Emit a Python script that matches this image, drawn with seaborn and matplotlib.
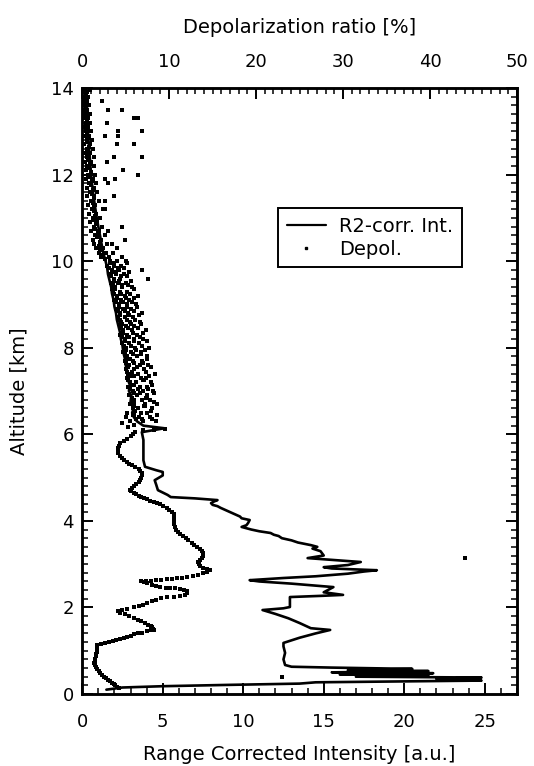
import matplotlib
matplotlib.use("Agg")
import matplotlib.pyplot as plt
import seaborn as sns
import pandas as pd
from matplotlib.lines import Line2D
from matplotlib.ticker import MultipleLocator

# ---------------- data ----------------
# Range-corrected intensity (bottom axis, a.u.) vs altitude (km)
int_alt = [0.10, 0.15, 0.18, 0.21, 0.24, 0.27, 0.29, 0.31, 0.35, 0.38, 0.40, 0.43, 0.45,
           0.48, 0.50, 0.53, 0.55, 0.58, 0.61, 0.63, 0.67, 0.80, 0.95, 1.10, 1.18, 1.30,
           1.40, 1.48, 1.52, 1.64, 1.75, 1.85, 1.94, 1.98, 2.01, 2.12, 2.24, 2.27, 2.29,
           2.35, 2.47, 2.55, 2.60, 2.63, 2.68, 2.72, 2.78, 2.83, 2.86, 2.90, 2.93, 2.98,
           3.05, 3.10, 3.14, 3.20, 3.30, 3.36, 3.40, 3.44, 3.50, 3.55, 3.60, 3.65, 3.68,
           3.72, 3.76, 3.80, 3.86, 3.90, 3.95, 4.02, 4.06, 4.10, 4.15, 4.20, 4.25, 4.30,
           4.34, 4.37, 4.41, 4.45, 4.48, 4.52, 4.55, 4.60, 4.71, 4.83, 4.94, 5.05,
           5.13, 5.17, 5.25, 5.40, 5.60, 5.87, 6.05, 6.14, 6.20, 6.30, 6.40, 6.50, 6.60,
           6.75, 6.90, 7.00, 7.15, 7.30, 7.45, 7.60, 7.75, 7.90, 8.05, 8.20, 8.35, 8.50,
           8.65, 8.80, 8.95, 9.10, 9.25, 9.40, 9.55, 9.70, 9.85, 10.00, 10.20, 10.40,
           10.60, 10.80, 11.00, 11.25, 11.50, 11.75, 12.00, 12.25, 12.50, 12.75, 13.00,
           13.25, 13.50, 13.75, 14.00]
int_val = [1.5, 2.5, 5.0, 9.0, 13.5, 14.5, 20.0, 24.8, 22.0, 24.8, 17.0, 21.5, 16.0,
           21.8, 15.5, 21.5, 16.5, 20.5, 15.5, 13.0, 12.6, 12.5, 12.6, 12.5, 12.5, 13.5,
           14.5, 15.4, 14.2, 13.5, 12.8, 12.0, 11.2, 12.5, 12.9, 12.9, 12.9, 15.0, 16.2,
           15.0, 15.6, 13.0, 11.0, 10.4, 12.5, 14.5, 16.5, 17.5, 18.3, 15.5, 15.0, 16.5,
           17.3, 15.5, 14.0, 15.0, 14.8, 14.3, 14.6, 14.2, 13.4, 13.0, 12.4, 12.2, 11.9,
           11.7, 11.0, 10.5, 9.9, 10.2, 10.3, 10.4, 9.9, 9.8, 9.5, 9.2, 8.9, 8.6,
           8.4, 8.1, 8.0, 8.2, 8.4, 7.0, 5.5, 5.3, 4.7, 4.6, 4.5, 5.0,
           5.0, 4.6, 3.9, 3.8, 3.8, 3.8, 3.7, 5.1, 3.8, 3.4, 3.2, 3.1, 3.2,
           3.0, 3.05, 2.9, 2.95, 2.8, 2.8, 2.7, 2.65, 2.55, 2.5, 2.4, 2.35, 2.25,
           2.15, 2.1, 2.0, 1.95, 1.85, 1.8, 1.7, 1.6, 1.55, 1.45, 1.3, 1.2,
           1.1, 1.0, 0.9, 0.8, 0.7, 0.62, 0.55, 0.5, 0.45, 0.4, 0.35,
           0.32, 0.3, 0.27, 0.25]

# Depolarization ratio (top axis, %) vs altitude (km): lower profile
dep_alt_low = [0.14, 0.17, 0.20, 0.23, 0.26, 0.29, 0.32, 0.36, 0.40, 0.44, 0.48, 0.52,
               0.57, 0.62, 0.67, 0.72, 0.77, 0.82, 0.87, 0.92, 0.97, 1.02, 1.07, 1.13,
               1.15, 1.17, 1.19, 1.22, 1.25, 1.27, 1.30, 1.32, 1.35, 1.38, 1.40, 1.42,
               1.45, 1.47, 1.48, 1.50, 1.54, 1.57, 1.60, 1.64, 1.68, 1.72, 1.76, 1.80,
               1.84, 1.88, 1.91, 1.94, 1.97, 2.00, 2.03, 2.06, 2.10, 2.14, 2.18, 2.21,
               2.23, 2.25, 2.27, 2.29, 2.33, 2.37, 2.40, 2.42, 2.44, 2.45, 2.46, 2.48,
               2.50, 2.53, 2.56, 2.58, 2.60, 2.61, 2.62, 2.63, 2.64, 2.65, 2.66, 2.67,
               2.68, 2.70, 2.72, 2.75, 2.79, 2.82, 2.86, 2.89, 2.92, 2.96, 3.00, 3.05,
               3.10, 3.15, 3.20, 3.25, 3.30, 3.35, 3.40, 3.45, 3.50, 3.55, 3.60, 3.65,
               3.70, 3.75, 3.80, 3.86, 3.92, 3.98, 4.04, 4.10, 4.16, 4.21, 4.26, 4.30,
               4.34, 4.38, 4.41, 4.44, 4.47, 4.50, 4.52, 4.55, 4.58, 4.61, 4.64, 4.68,
               4.71, 4.75, 4.80, 4.85, 4.90, 4.95, 5.00, 5.05, 5.10, 5.15, 5.20, 5.24,
               5.28, 5.32, 5.36, 5.40, 5.45, 5.50, 5.56, 5.62, 5.68, 5.74, 5.80, 5.85,
               5.90, 5.95, 6.00, 6.05, 6.09, 6.11, 6.13, 6.17, 6.22, 6.26, 0.39, 3.14]
dep_val_low = [4.2, 4.0, 3.8, 3.6, 3.4, 3.2, 3.0, 2.7, 2.5, 2.3, 2.1, 1.9,
               1.7, 1.6, 1.5, 1.4, 1.45, 1.5, 1.55, 1.6, 1.65, 1.7, 1.7, 1.7,
               2.2, 2.6, 3.1, 3.5, 3.9, 4.4, 4.8, 5.2, 5.6, 6.0, 6.4, 6.9,
               7.4, 7.9, 8.3, 8.1, 8.0, 7.9, 7.6, 7.2, 6.8, 6.4, 5.9, 5.4,
               4.9, 4.4, 4.1, 4.6, 5.2, 6.0, 6.5, 7.0, 7.5, 8.0, 8.5, 9.1,
               9.8, 10.5, 11.2, 11.8, 12.1, 12.0, 11.7, 11.3, 10.7, 10.1, 9.6, 9.0,
               8.5, 8.0, 7.5, 7.1, 6.8, 7.3, 7.9, 8.5, 9.1, 9.7, 10.3, 10.9,
               11.5, 12.1, 12.7, 13.3, 13.9, 14.4, 14.7, 14.3, 13.9, 13.6, 13.4, 13.3,
               13.5, 13.8, 13.9, 13.9, 13.8, 13.5, 13.2, 12.9, 12.6, 12.2, 11.9, 11.6,
               11.3, 11.0, 10.8, 10.7, 10.6, 10.6, 10.6, 10.5, 10.5, 10.3, 10.0, 9.7,
               9.3, 8.9, 8.6, 8.2, 7.8, 7.5, 7.1, 6.8, 6.5, 6.2, 5.9, 5.6,
               5.5, 5.7, 5.9, 6.2, 6.5, 6.7, 6.8, 6.9, 6.9, 6.7, 6.5, 6.1,
               5.7, 5.4, 5.1, 4.8, 4.6, 4.3, 4.1, 4.1, 4.1, 4.2, 4.4, 4.8,
               5.2, 5.6, 5.8, 6.1, 7.0, 8.2, 9.5, 5.3, 6.0, 4.6, 23.0, 44.0]

# depolarization scatter band, 6.3 - 10 km
dep_alt_band = [6.3, 6.3, 6.3, 6.4, 6.4, 6.4, 6.5, 6.5, 6.5, 6.6, 6.6, 6.6, 6.7, 6.7, 6.7,
                6.8, 6.8, 6.8, 6.9, 6.9, 6.9, 7.0, 7.0, 7.0, 7.1, 7.1, 7.1, 7.2, 7.2, 7.2,
                7.3, 7.3, 7.3, 7.4, 7.4, 7.4, 7.5, 7.5, 7.5, 7.6, 7.6, 7.6, 7.7, 7.7, 7.7,
                7.8, 7.8, 7.8, 7.9, 7.9, 7.9, 8.0, 8.0, 8.0, 8.1, 8.1, 8.1, 8.2, 8.2, 8.2,
                8.3, 8.3, 8.3, 8.4, 8.4, 8.4, 8.5, 8.5, 8.5, 8.6, 8.6, 8.6, 8.7, 8.7, 8.7,
                8.8, 8.8, 8.8, 8.9, 8.9, 8.9, 9.0, 9.0, 9.0, 9.1, 9.1, 9.1, 9.2, 9.2, 9.2,
                9.3, 9.3, 9.3, 9.4, 9.4, 9.4, 9.5, 9.5, 9.5, 9.6, 9.6, 9.6, 9.7, 9.7, 9.7,
                9.8, 9.8, 9.8, 9.9, 9.9, 9.9, 10.0, 10.0, 10.0]
dep_val_band = [5.5, 7.0, 8.5, 5.0, 6.5, 7.8, 5.2, 6.8, 7.5, 5.8, 6.4, 8.0, 5.5, 7.2, 8.6,
                5.9, 6.9, 7.8, 5.4, 6.3, 7.4, 5.8, 7.0, 8.1, 5.3, 6.6, 7.5, 5.5, 6.2, 7.9,
                5.1, 6.8, 7.3, 5.6, 6.4, 8.4, 5.0, 6.0, 7.1, 5.4, 6.6, 7.6, 4.9, 5.8, 6.9,
                5.2, 6.3, 7.4, 4.7, 5.6, 6.8, 5.0, 6.1, 7.7, 4.6, 5.4, 6.5, 4.9, 5.9, 7.0,
                4.4, 5.2, 6.3, 4.7, 5.7, 7.3, 4.3, 5.0, 6.0, 4.5, 5.5, 6.6, 4.1, 4.9, 5.8,
                4.4, 5.3, 6.9, 3.9, 4.7, 5.6, 4.2, 5.1, 6.2, 3.7, 4.5, 5.4, 4.0, 4.9, 6.4,
                3.5, 4.3, 5.2, 3.8, 4.6, 5.7, 3.3, 4.1, 5.0, 3.6, 4.4, 7.6, 3.1, 3.9, 4.8,
                3.4, 4.2, 6.9, 2.9, 3.7, 4.5, 3.2, 4.0, 5.0]
dep_alt_mid = [6.35, 6.45, 6.55, 6.65, 6.75, 6.85, 6.95, 7.05, 7.15, 7.25, 7.35, 7.45,
               7.55, 7.65, 7.75, 7.85, 7.95, 8.05, 8.15, 8.25, 8.35, 8.45, 8.55, 8.65,
               8.75, 8.85, 8.95, 9.05, 9.15, 9.25, 9.35, 9.45, 9.55, 9.65, 9.75, 9.85, 9.95]
dep_val_mid_a = [6.2, 5.8, 6.1, 7.1, 6.0, 7.3, 6.6, 6.4, 5.9, 7.0, 6.0, 5.7,
                 6.3, 5.9, 5.5, 5.8, 6.2, 5.6, 5.9, 5.4, 5.8, 5.3, 5.6, 5.1,
                 5.4, 4.9, 5.2, 4.7, 5.0, 4.5, 3.4, 4.6, 4.2, 4.5, 3.9, 4.1, 3.6]
dep_val_mid_b = [6.9, 6.0, 5.9, 6.0, 5.8, 5.7, 5.9, 5.5, 5.6, 5.3, 5.5, 5.2,
                 5.3, 5.0, 5.2, 4.9, 5.0, 4.8, 4.9, 4.6, 4.7, 4.5, 4.6, 4.3,
                 4.4, 4.1, 4.2, 3.9, 4.0, 3.7, 3.8, 3.5, 3.6, 3.3, 3.4, 3.1, 3.2]
dep_val_mid_c = [8.0, 8.6, 7.9, 7.2, 8.2, 7.5, 8.3, 7.6, 8.0, 7.1, 7.7, 7.3,
                 7.9, 7.0, 7.5, 6.8, 7.2, 6.9, 7.4, 6.6, 7.0, 6.4, 6.8, 6.1,
                 6.5, 5.9, 6.3, 5.7, 6.0, 5.5, 5.9, 5.3, 5.6, 5.1, 5.4, 4.8, 5.1]

# depolarization above 10 km
dep_alt_high = [10.1, 10.1, 10.1, 10.2, 10.2, 10.2, 10.3, 10.3, 10.3, 10.4, 10.4, 10.4,
                10.5, 10.5, 10.5, 10.6, 10.6, 10.7, 10.7, 10.7, 10.8, 10.8, 10.8, 10.9, 10.9,
                11.0, 11.0, 11.1, 11.1, 11.2, 11.2, 11.2, 11.3, 11.3, 11.4, 11.4, 11.4,
                11.5, 11.5, 11.5, 11.6, 11.6, 11.7, 11.7, 11.8, 11.8, 11.8, 11.9, 11.9, 11.9,
                11.9, 12.0, 12.0, 12.0, 12.1, 12.1, 12.2, 12.2, 12.3, 12.3, 12.3, 12.4, 12.4,
                12.4, 12.4, 12.5, 12.5, 12.6, 12.6, 12.7, 12.7, 12.7, 12.7, 12.8, 12.8, 12.9,
                12.9, 12.9, 12.9, 13.0, 13.0, 13.0, 13.0, 13.1, 13.1, 13.2, 13.2, 13.2, 13.3,
                13.3, 13.3, 13.3, 13.4, 13.4, 13.5, 13.5, 13.5, 13.5, 13.6, 13.6, 13.7, 13.7,
                13.7, 13.8, 13.8, 13.9, 13.9, 13.95, 13.95]
dep_val_high = [2.2, 3.1, 4.6, 1.9, 2.7, 3.5, 1.6, 2.4, 4.0, 1.4, 2.9, 3.4,
                1.2, 2.2, 4.9, 1.5, 2.6, 1.0, 1.9, 3.0, 1.3, 2.3, 4.6, 0.9, 1.7,
                1.2, 2.1, 0.8, 1.6, 1.1, 2.4, 2.6, 0.7, 1.5, 1.0, 1.9, 2.6,
                0.6, 1.4, 3.6, 0.9, 1.7, 0.5, 1.3, 0.8, 1.6, 3.0, 0.4, 1.2, 2.6,
                3.8, 0.7, 1.5, 6.4, 0.4, 4.7, 0.6, 1.4, 0.3, 1.0, 2.8, 0.6, 1.3,
                3.6, 6.9, 0.3, 0.9, 0.5, 1.2, 0.2, 0.9, 4.0, 5.9, 0.5, 1.1, 0.2,
                0.8, 2.6, 4.1, 0.4, 1.0, 4.1, 6.9, 0.2, 0.7, 0.4, 0.9, 2.9, 0.2,
                0.7, 5.9, 6.4, 0.3, 0.9, 0.2, 0.6, 3.0, 4.6, 0.3, 0.8, 0.1, 0.6,
                2.3, 0.3, 0.7, 0.1, 0.5, 0.3, 0.9]
dep_alt_top = [10.05, 10.15, 10.25, 10.35, 10.45, 10.55, 10.65, 10.75, 10.85, 10.95,
               11.05, 11.15, 11.25, 11.35, 11.45, 11.55, 11.65, 11.75, 11.85, 11.95,
               12.05, 12.15, 12.25, 12.35, 12.45, 12.55, 12.65, 12.75, 12.85, 12.95,
               13.05, 13.15, 13.25, 13.35, 13.45, 13.55, 13.65, 13.75, 13.85, 13.95]
dep_val_top = [2.6, 2.3, 2.1, 1.9, 2.0, 1.7, 1.8, 1.5, 1.6, 1.4,
               1.5, 1.3, 1.4, 1.2, 1.3, 1.1, 1.2, 1.0, 1.1, 0.9,
               1.0, 0.8, 0.9, 0.7, 0.8, 0.7, 0.8, 0.6, 0.7, 0.5,
               0.6, 0.5, 0.6, 0.4, 0.5, 0.4, 0.5, 0.4, 0.4, 0.3]

int_df = pd.DataFrame({"alt": int_alt, "val": int_val})
dep_df = pd.DataFrame({
    "alt": dep_alt_low + dep_alt_band + dep_alt_mid * 3 + dep_alt_high + dep_alt_top,
    "val": dep_val_low + dep_val_band + dep_val_mid_a + dep_val_mid_b + dep_val_mid_c
           + dep_val_high + dep_val_top})

# ---------------- figure ----------------
sns.set_theme(style="ticks")
plt.rcParams["font.family"] = ["DejaVu Sans"]
for k in ("text.color", "axes.labelcolor", "xtick.color", "ytick.color", "axes.edgecolor"):
    plt.rcParams[k] = "black"

fig = plt.figure(figsize=(5.34, 7.66), dpi=100)
ax = fig.add_axes([0.154, 0.094, 0.814, 0.791])
ax2 = ax.twiny()

sns.lineplot(data=int_df, x="val", y="alt", sort=False, estimator=None,
             color="black", linewidth=1.9, ax=ax, legend=False)
sns.scatterplot(data=dep_df, x="val", y="alt", color="black", s=7, marker="s",
                linewidth=0, ax=ax2, legend=False)

ax.set_xlim(0, 27)
ax.set_ylim(0, 14)
ax2.set_xlim(0, 50)

tfs = 13
lfs = 14
ax.set_xlabel("Range Corrected Intensity [a.u.]", fontsize=lfs, labelpad=10)
ax.set_ylabel("Altitude [km]", fontsize=lfs, labelpad=16)
ax2.set_xlabel("Depolarization ratio [%]", fontsize=lfs, labelpad=15)

ax.xaxis.set_major_locator(MultipleLocator(5))
ax.xaxis.set_minor_locator(MultipleLocator(1))
ax.yaxis.set_major_locator(MultipleLocator(2))
ax.yaxis.set_minor_locator(MultipleLocator(0.2))
ax2.xaxis.set_major_locator(MultipleLocator(10))
ax2.xaxis.set_minor_locator(MultipleLocator(1))

ax.tick_params(axis="both", which="major", direction="in", length=8, width=1.4,
               labelsize=tfs, right=True, pad=6)
ax.tick_params(axis="x", which="major", pad=14)
ax.tick_params(axis="both", which="minor", direction="in", length=4, width=1.1,
               right=True)
ax.tick_params(axis="x", which="both", top=False)
ax2.tick_params(axis="x", which="major", direction="in", length=8, width=1.4,
                labelsize=tfs, pad=12)
ax2.tick_params(axis="x", which="minor", direction="in", length=4, width=1.1)

for a in (ax, ax2):
    for sp in a.spines.values():
        sp.set_linewidth(1.8)
        sp.set_color("black")

handles = [Line2D([0], [0], color="black", linewidth=1.6),
           Line2D([0], [0], color="black", marker="s", markersize=2, linestyle="none")]
leg = ax.legend(handles, ["R2-corr. Int.", "Depol."], loc="upper right",
                bbox_to_anchor=(0.874, 0.802), borderaxespad=0, fontsize=lfs,
                frameon=True, fancybox=False, handlelength=2.0, handletextpad=0.7,
                borderpad=0.45, labelspacing=0.2)
leg.get_frame().set_edgecolor("black")
leg.get_frame().set_linewidth(1.4)
leg.get_frame().set_alpha(1)

fig.savefig("out.png", dpi=100)
